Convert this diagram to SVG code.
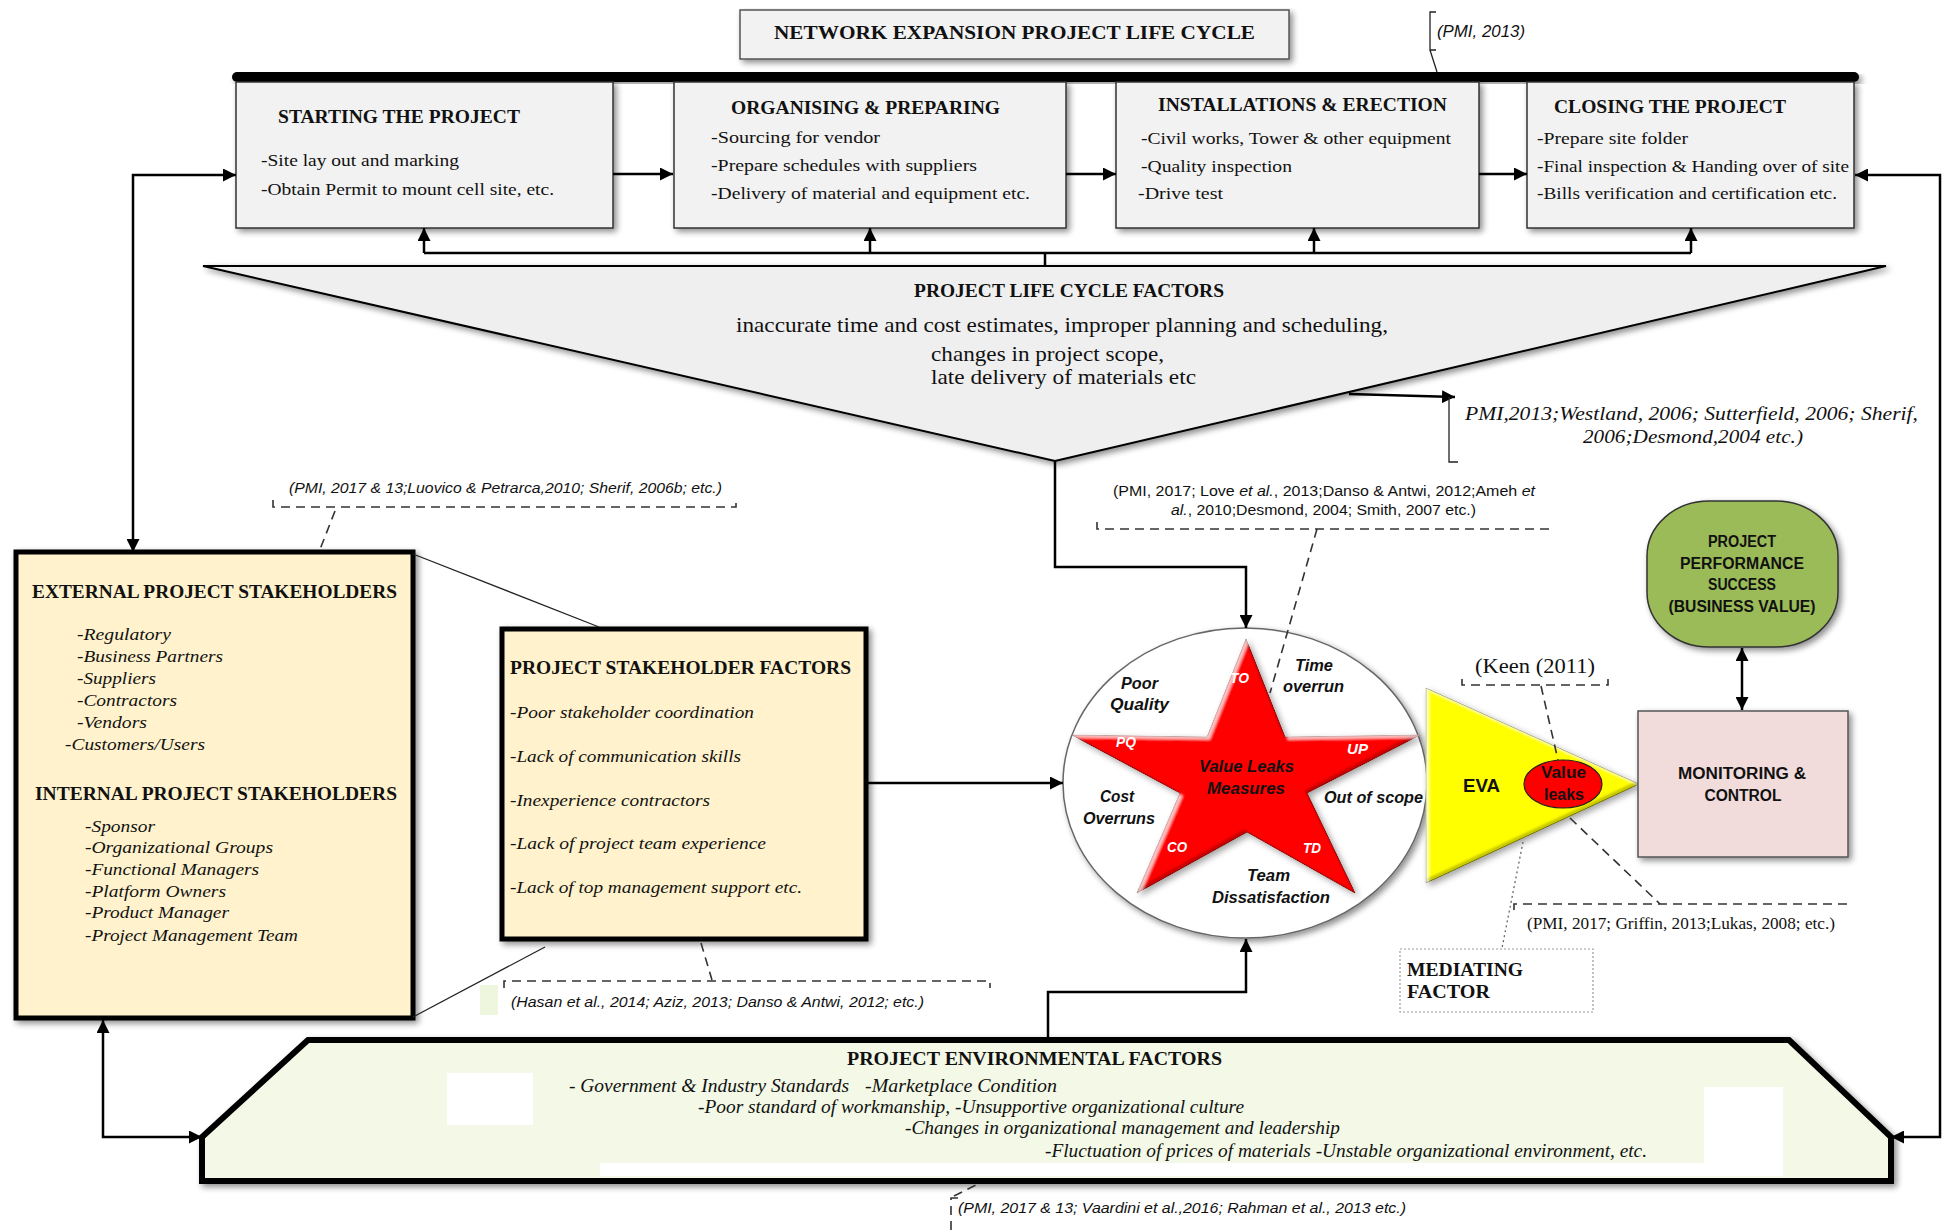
<svg xmlns="http://www.w3.org/2000/svg" width="1944" height="1232" viewBox="0 0 1944 1232">
  <defs>
    <style>
      .ser { font-family: "Liberation Serif", "Times New Roman", serif; fill: #111; }
      .sans { font-family: "Liberation Sans", Arial, sans-serif; fill: #111; }
      .b { font-weight: bold; }
      .i { font-style: italic; }
      .phase { fill: #f2f2f2; stroke: #333; stroke-width: 1.5; }
      .stake { fill: #fff2cc; stroke: #000; stroke-width: 5; }
      .conn { fill: none; stroke: #000; stroke-width: 2.5; }
      .thin { fill: none; stroke: #222; stroke-width: 1.3; }
      .dash { fill: none; stroke: #333; stroke-width: 1.6; stroke-dasharray: 9 6; }
      .dot { fill: none; stroke: #666; stroke-width: 1.3; stroke-dasharray: 2 3; }
      .wlab { fill: #fff; font-family: "Liberation Sans", Arial, sans-serif; font-weight: bold; font-style: italic; font-size: 14px; }
      .klab { fill: #111; font-family: "Liberation Sans", Arial, sans-serif; font-weight: bold; font-style: italic; font-size: 16px; }
    </style>
    <marker id="ah" viewBox="0 0 10 10" refX="10" refY="5" markerWidth="13" markerHeight="13" markerUnits="userSpaceOnUse" orient="auto-start-reverse">
      <path d="M0,0 L10,5 L0,10 z" fill="#000"/>
    </marker>
    <filter id="sh" x="-10%" y="-10%" width="125%" height="130%">
      <feGaussianBlur in="SourceAlpha" stdDeviation="3"/>
      <feOffset dx="3" dy="3" result="o"/>
      <feComponentTransfer><feFuncA type="linear" slope="0.45"/></feComponentTransfer>
      <feMerge><feMergeNode/><feMergeNode in="SourceGraphic"/></feMerge>
    </filter>
    <filter id="bevel" x="-6%" y="-6%" width="115%" height="115%">
      <feGaussianBlur in="SourceAlpha" stdDeviation="3" result="sb"/>
      <feOffset in="sb" dx="3" dy="3" result="sbo"/>
      <feFlood flood-color="#000" flood-opacity="0.35"/>
      <feComposite in2="sbo" operator="in" result="drop"/>
      <feOffset in="SourceAlpha" dx="-3" dy="-3" result="s1"/>
      <feComposite in="SourceAlpha" in2="s1" operator="out" result="e1"/>
      <feGaussianBlur in="e1" stdDeviation="1.2" result="e1b"/>
      <feFlood flood-color="#000" flood-opacity="0.45"/>
      <feComposite in2="e1b" operator="in" result="dk"/>
      <feOffset in="SourceAlpha" dx="3" dy="3" result="s2"/>
      <feComposite in="SourceAlpha" in2="s2" operator="out" result="e2"/>
      <feGaussianBlur in="e2" stdDeviation="1.2" result="e2b"/>
      <feFlood flood-color="#fff" flood-opacity="0.55"/>
      <feComposite in2="e2b" operator="in" result="lt"/>
      <feMerge result="m"><feMergeNode in="SourceGraphic"/><feMergeNode in="dk"/><feMergeNode in="lt"/></feMerge>
      <feComposite in="m" in2="SourceAlpha" operator="in" result="mc"/>
      <feMerge><feMergeNode in="drop"/><feMergeNode in="mc"/></feMerge>
    </filter>
  </defs>

  <rect width="1944" height="1232" fill="#fff"/>

  <!-- title -->
  <g id="node-title">
    <rect x="740" y="10" width="549" height="49" fill="#f2f2f2" stroke="#555" stroke-width="1.5" filter="url(#sh)"/>
    <text class="ser b" x="774" y="39" font-size="19" textLength="481" lengthAdjust="spacingAndGlyphs">NETWORK EXPANSION PROJECT LIFE CYCLE</text>
  </g>

  <!-- life-cycle timeline bar -->
  <rect id="timeline-bar" x="232" y="72" width="1627" height="10" rx="5" fill="#000" filter="url(#sh)"/>

  <!-- phases -->
  <g id="node-start">
    <rect class="phase" x="236" y="82" width="377" height="146" filter="url(#sh)"/>
    <text class="ser b" x="278" y="123" font-size="18" textLength="242" lengthAdjust="spacingAndGlyphs">STARTING THE PROJECT</text>
    <text class="ser" x="261" y="166" font-size="17" textLength="198" lengthAdjust="spacingAndGlyphs">-Site lay out and marking</text>
    <text class="ser" x="261" y="195" font-size="17" textLength="293" lengthAdjust="spacingAndGlyphs">-Obtain Permit to mount cell site, etc.</text>
  </g>
  <g id="node-organise">
    <rect class="phase" x="674" y="82" width="392" height="146" filter="url(#sh)"/>
    <text class="ser b" x="731" y="114" font-size="18" textLength="269" lengthAdjust="spacingAndGlyphs">ORGANISING &amp; PREPARING</text>
    <text class="ser" x="711" y="143" font-size="17" textLength="169" lengthAdjust="spacingAndGlyphs">-Sourcing for vendor</text>
    <text class="ser" x="711" y="171" font-size="17" textLength="266" lengthAdjust="spacingAndGlyphs">-Prepare schedules with suppliers</text>
    <text class="ser" x="711" y="199" font-size="17" textLength="319" lengthAdjust="spacingAndGlyphs">-Delivery of material and equipment etc.</text>
  </g>
  <g id="node-install">
    <rect class="phase" x="1116" y="82" width="363" height="146" filter="url(#sh)"/>
    <text class="ser b" x="1158" y="111" font-size="18" textLength="289" lengthAdjust="spacingAndGlyphs">INSTALLATIONS &amp; ERECTION</text>
    <text class="ser" x="1141" y="144" font-size="17" textLength="310" lengthAdjust="spacingAndGlyphs">-Civil works, Tower &amp; other equipment</text>
    <text class="ser" x="1141" y="172" font-size="17" textLength="151" lengthAdjust="spacingAndGlyphs">-Quality inspection</text>
    <text class="ser" x="1138" y="199" font-size="17" textLength="85" lengthAdjust="spacingAndGlyphs">-Drive test</text>
  </g>
  <g id="node-close">
    <rect class="phase" x="1527" y="82" width="327" height="146" filter="url(#sh)"/>
    <text class="ser b" x="1554" y="113" font-size="18" textLength="232" lengthAdjust="spacingAndGlyphs">CLOSING THE PROJECT</text>
    <text class="ser" x="1537" y="144" font-size="17" textLength="151" lengthAdjust="spacingAndGlyphs">-Prepare site folder</text>
    <text class="ser" x="1537" y="172" font-size="17" textLength="312" lengthAdjust="spacingAndGlyphs">-Final inspection &amp; Handing over of site</text>
    <text class="ser" x="1537" y="199" font-size="17" textLength="300" lengthAdjust="spacingAndGlyphs">-Bills verification and certification etc.</text>
  </g>

  <!-- project life cycle factors (inverted triangle) -->
  <g id="node-lifecycle-factors">
    <polygon points="203,266 1886,266 1055,461" fill="#efefef" stroke="#000" stroke-width="2" filter="url(#sh)"/>
    <text class="ser b" x="914" y="297" font-size="19" textLength="310" lengthAdjust="spacingAndGlyphs">PROJECT LIFE CYCLE FACTORS</text>
    <text class="ser" x="736" y="332" font-size="21" textLength="652" lengthAdjust="spacingAndGlyphs">inaccurate time and cost estimates, improper planning and scheduling,</text>
    <text class="ser" x="931" y="361" font-size="21" textLength="233" lengthAdjust="spacingAndGlyphs">changes in project scope,</text>
    <text class="ser" x="931" y="384" font-size="21" textLength="265" lengthAdjust="spacingAndGlyphs">late delivery of materials etc</text>
  </g>

  <!-- stakeholders -->
  <g id="node-external">
    <rect class="stake" x="16" y="552" width="397" height="466" filter="url(#sh)"/>
    <text class="ser b" x="32" y="598" font-size="19" textLength="365" lengthAdjust="spacingAndGlyphs">EXTERNAL PROJECT STAKEHOLDERS</text>
    <g class="ser i" font-size="17">
      <text x="77" y="640" textLength="94" lengthAdjust="spacingAndGlyphs">-Regulatory</text>
      <text x="77" y="662" textLength="146" lengthAdjust="spacingAndGlyphs">-Business Partners</text>
      <text x="77" y="684" textLength="79" lengthAdjust="spacingAndGlyphs">-Suppliers</text>
      <text x="77" y="706" textLength="100" lengthAdjust="spacingAndGlyphs">-Contractors</text>
      <text x="77" y="728" textLength="70" lengthAdjust="spacingAndGlyphs">-Vendors</text>
      <text x="65" y="750" textLength="140" lengthAdjust="spacingAndGlyphs">-Customers/Users</text>
    </g>
    <text class="ser b" x="35" y="800" font-size="19" textLength="362" lengthAdjust="spacingAndGlyphs">INTERNAL PROJECT STAKEHOLDERS</text>
    <g class="ser i" font-size="17">
      <text x="85" y="832" textLength="70" lengthAdjust="spacingAndGlyphs">-Sponsor</text>
      <text x="85" y="853" textLength="188" lengthAdjust="spacingAndGlyphs">-Organizational Groups</text>
      <text x="85" y="875" textLength="174" lengthAdjust="spacingAndGlyphs">-Functional Managers</text>
      <text x="85" y="897" textLength="141" lengthAdjust="spacingAndGlyphs">-Platform Owners</text>
      <text x="85" y="918" textLength="144" lengthAdjust="spacingAndGlyphs">-Product Manager</text>
      <text x="85" y="941" textLength="213" lengthAdjust="spacingAndGlyphs">-Project Management Team</text>
    </g>
  </g>

  <g id="node-stakeholder-factors">
    <rect class="stake" x="502" y="629" width="364" height="310" filter="url(#sh)"/>
    <text class="ser b" x="510" y="674" font-size="19" textLength="341" lengthAdjust="spacingAndGlyphs">PROJECT STAKEHOLDER FACTORS</text>
    <g class="ser i" font-size="17">
      <text x="510" y="718" textLength="244" lengthAdjust="spacingAndGlyphs">-Poor stakeholder coordination</text>
      <text x="510" y="762" textLength="231" lengthAdjust="spacingAndGlyphs">-Lack of communication skills</text>
      <text x="510" y="806" textLength="200" lengthAdjust="spacingAndGlyphs">-Inexperience contractors</text>
      <text x="510" y="849" textLength="256" lengthAdjust="spacingAndGlyphs">-Lack of project team experience</text>
      <text x="510" y="893" textLength="292" lengthAdjust="spacingAndGlyphs">-Lack of top management support etc.</text>
    </g>
  </g>

  <!-- value leak measures: ellipse with star -->
  <g id="node-value-leaks">
    <ellipse cx="1245" cy="783" rx="182" ry="155" fill="#fff" stroke="#666" stroke-width="1.5" filter="url(#sh)"/>
    <polygon points="1246,639 1285,737 1420,735 1307,793 1355,893 1247,832 1137,893 1180,793 1072,735 1207,737" fill="#ff0000" stroke="#900" stroke-width="1" filter="url(#bevel)"/>
    <text class="wlab" x="1230" y="683" textLength="19" lengthAdjust="spacingAndGlyphs">TO</text>
    <text class="wlab" x="1116" y="747" textLength="20" lengthAdjust="spacingAndGlyphs">PQ</text>
    <text class="wlab" x="1347" y="754" textLength="21" lengthAdjust="spacingAndGlyphs">UP</text>
    <text class="wlab" x="1167" y="852" textLength="20" lengthAdjust="spacingAndGlyphs">CO</text>
    <text class="wlab" x="1303" y="853" textLength="18" lengthAdjust="spacingAndGlyphs">TD</text>
    <text class="klab" x="1199" y="772" textLength="95" lengthAdjust="spacingAndGlyphs">Value Leaks</text>
    <text class="klab" x="1207" y="794" textLength="78" lengthAdjust="spacingAndGlyphs">Measures</text>
    <text class="klab" x="1121" y="689" textLength="37" lengthAdjust="spacingAndGlyphs">Poor</text>
    <text class="klab" x="1110" y="710" textLength="59" lengthAdjust="spacingAndGlyphs">Quality</text>
    <text class="klab" x="1295" y="671" textLength="38" lengthAdjust="spacingAndGlyphs">Time</text>
    <text class="klab" x="1283" y="692" textLength="61" lengthAdjust="spacingAndGlyphs">overrun</text>
    <text class="klab" x="1100" y="802" textLength="34" lengthAdjust="spacingAndGlyphs">Cost</text>
    <text class="klab" x="1083" y="824" textLength="72" lengthAdjust="spacingAndGlyphs">Overruns</text>
    <text class="klab" x="1324" y="803" textLength="99" lengthAdjust="spacingAndGlyphs">Out of scope</text>
    <text class="klab" x="1247" y="881" textLength="43" lengthAdjust="spacingAndGlyphs">Team</text>
    <text class="klab" x="1212" y="903" textLength="118" lengthAdjust="spacingAndGlyphs">Dissatisfaction</text>
  </g>

  <!-- EVA -->
  <g id="node-eva">
    <polygon points="1426,688 1639,784 1426,883" fill="#ffff00" stroke="#7a7a00" stroke-width="1" filter="url(#bevel)"/>
    <text class="sans b" x="1463" y="792" font-size="19" textLength="37" lengthAdjust="spacingAndGlyphs">EVA</text>
    <ellipse cx="1563" cy="784" rx="39" ry="24" fill="#ff0000" stroke="#222" stroke-width="1.2"/>
    <text class="sans b" x="1541" y="778" font-size="17" textLength="45" lengthAdjust="spacingAndGlyphs">Value</text>
    <text class="sans b" x="1544" y="800" font-size="17" textLength="40" lengthAdjust="spacingAndGlyphs">leaks</text>
  </g>

  <!-- performance & monitoring -->
  <g id="node-performance">
    <rect x="1647" y="501" width="191" height="146" rx="62" ry="55" fill="#9bbb59" stroke="#333" stroke-width="1.5" filter="url(#sh)"/>
    <g class="sans b" font-size="16" text-anchor="middle">
      <text x="1742" y="547" textLength="68" lengthAdjust="spacingAndGlyphs">PROJECT</text>
      <text x="1742" y="569" textLength="124" lengthAdjust="spacingAndGlyphs">PERFORMANCE</text>
      <text x="1742" y="590" textLength="68" lengthAdjust="spacingAndGlyphs">SUCCESS</text>
      <text x="1742" y="612" textLength="147" lengthAdjust="spacingAndGlyphs">(BUSINESS VALUE)</text>
    </g>
  </g>
  <g id="node-monitoring">
    <rect x="1638" y="711" width="210" height="146" fill="#f2dcdb" stroke="#555" stroke-width="1.5" filter="url(#sh)"/>
    <g class="sans b" font-size="16" text-anchor="middle">
      <text x="1742" y="779" textLength="128" lengthAdjust="spacingAndGlyphs">MONITORING &amp;</text>
      <text x="1743" y="801" textLength="77" lengthAdjust="spacingAndGlyphs">CONTROL</text>
    </g>
  </g>

  <g id="node-mediating">
    <rect x="1400" y="949" width="193" height="63" fill="#fff" stroke="#999" stroke-width="1.2" stroke-dasharray="2 2"/>
    <text class="ser b" x="1407" y="976" font-size="19" textLength="116" lengthAdjust="spacingAndGlyphs">MEDIATING</text>
    <text class="ser b" x="1407" y="998" font-size="19" textLength="83" lengthAdjust="spacingAndGlyphs">FACTOR</text>
  </g>

  <!-- project environmental factors -->
  <g id="node-environment">
    <path d="M308,1040 L1789,1040 L1891,1137 L1891,1181 L202,1181 L202,1137 Z" fill="#f3f9e6" stroke="#000" stroke-width="6" stroke-linejoin="miter" filter="url(#sh)"/>
    <rect x="447" y="1073" width="86" height="52" fill="#fff"/>
    <rect x="1704" y="1087" width="79" height="83" fill="#fff"/>
    <rect x="600" y="1163" width="1183" height="13" fill="#fff"/>
    <text class="ser b" x="847" y="1065" font-size="18" textLength="375" lengthAdjust="spacingAndGlyphs">PROJECT ENVIRONMENTAL FACTORS</text>
    <g class="ser i" font-size="18">
      <text x="569" y="1092" textLength="280" lengthAdjust="spacingAndGlyphs">- Government &amp; Industry Standards</text>
      <text x="865" y="1092" textLength="192" lengthAdjust="spacingAndGlyphs">-Marketplace Condition</text>
      <text x="698" y="1113" textLength="546" lengthAdjust="spacingAndGlyphs">-Poor standard of workmanship, -Unsupportive organizational culture</text>
      <text x="905" y="1134" textLength="435" lengthAdjust="spacingAndGlyphs">-Changes in organizational management and leadership</text>
      <text x="1045" y="1157" textLength="602" lengthAdjust="spacingAndGlyphs">-Fluctuation of prices of materials -Unstable organizational environment, etc.</text>
    </g>
  </g>

  <!-- connectors -->
  <g id="connectors">
    <path class="conn" d="M613,174 H673" stroke-width="2" marker-end="url(#ah)"/>
    <path class="conn" d="M1066,174 H1116" stroke-width="2" marker-end="url(#ah)"/>
    <path class="conn" d="M1479,174 H1527" stroke-width="2" marker-end="url(#ah)"/>
    <path class="conn" d="M424,253 H1691 M1045,266 V253" stroke-width="1.5"/>
    <path class="conn" d="M424,253 V228" stroke-width="1.5" marker-end="url(#ah)"/>
    <path class="conn" d="M870,253 V228" stroke-width="1.5" marker-end="url(#ah)"/>
    <path class="conn" d="M1314,253 V228" stroke-width="1.5" marker-end="url(#ah)"/>
    <path class="conn" d="M1691,253 V228" stroke-width="1.5" marker-end="url(#ah)"/>
    <path class="conn" d="M236,175 H133 V552" stroke-width="3.5" marker-start="url(#ah)" marker-end="url(#ah)"/>
    <path class="conn" d="M1855,175 H1940 V1137 H1891" stroke-width="3.5" marker-start="url(#ah)" marker-end="url(#ah)"/>
    <path class="conn" d="M103,1020 V1137 H202" stroke-width="3.5" marker-start="url(#ah)" marker-end="url(#ah)"/>
    <path class="conn" d="M1055,461 V567 H1246 V628" marker-end="url(#ah)"/>
    <path class="conn" d="M866,783 H1063" marker-end="url(#ah)"/>
    <path class="conn" d="M1048,1038 V992 H1246 V939" marker-end="url(#ah)"/>
    <path class="conn" d="M1742,648 V710" stroke-width="2" marker-start="url(#ah)" marker-end="url(#ah)"/>
    <path class="thin" d="M413,554 L599,627"/>
    <path class="thin" d="M413,1017 L545,947"/>
  </g>

  <!-- literature references -->
  <g id="citations">
    <path class="thin" d="M1436,12 H1430 V50 H1436 M1430,50 L1437,72"/>
    <text class="sans i" x="1437" y="37" font-size="16" textLength="88" lengthAdjust="spacingAndGlyphs">(PMI, 2013)</text>

    <path class="conn" d="M1349,394 L1455,397" stroke-width="1.5" marker-end="url(#ah)"/>
    <path class="thin" d="M1449,397 V462 H1458"/>
    <text class="ser i" x="1465" y="420" font-size="18" textLength="453" lengthAdjust="spacingAndGlyphs">PMI,2013;Westland, 2006;  Sutterfield, 2006; Sherif,</text>
    <text class="ser i" x="1583" y="443" font-size="18" textLength="220" lengthAdjust="spacingAndGlyphs">2006;Desmond,2004 etc.)</text>

    <text class="sans i" x="289" y="493" font-size="15" textLength="433" lengthAdjust="spacingAndGlyphs">(PMI, 2017 &amp; 13;Luovico &amp; Petrarca,2010; Sherif, 2006b; etc.)</text>
    <path class="dash" d="M273,500 V507 H736 V500"/>
    <path class="dash" d="M335,511 L319,552"/>

    <text class="sans" x="1113" y="496" font-size="14" textLength="422" lengthAdjust="spacingAndGlyphs">(PMI, 2017; Love <tspan font-style="italic">et al.</tspan>, 2013;Danso &amp; Antwi, 2012;Ameh <tspan font-style="italic">et</tspan></text>
    <text class="sans" x="1171" y="515" font-size="14" textLength="305" lengthAdjust="spacingAndGlyphs"><tspan font-style="italic">al.</tspan>, 2010;Desmond, 2004; Smith, 2007 etc.)</text>
    <path class="dash" d="M1097,522 V529 H1550"/>
    <path class="dash" d="M1317,529 L1270,693"/>

    <text class="ser" x="1475" y="673" font-size="21" textLength="120" lengthAdjust="spacingAndGlyphs">(Keen (2011)</text>
    <path class="dash" d="M1462,679 V685 H1608 V679"/>
    <path class="dash" d="M1541,686 L1558,760"/>

    <path class="dash" d="M1514,910 V904 H1848"/>
    <path class="dash" d="M1570,818 L1660,904"/>
    <path class="dot" d="M1523,842 L1502,948"/>
    <text class="ser" x="1527" y="929" font-size="16" textLength="308" lengthAdjust="spacingAndGlyphs">(PMI, 2017; Griffin, 2013;Lukas, 2008; etc.)</text>

    <rect x="480" y="985" width="18" height="30" fill="#eef6dd"/>
    <path class="dash" d="M504,988 V981 H990 V988"/>
    <path class="dash" d="M701,943 L712,980"/>
    <text class="sans i" x="511" y="1007" font-size="15" textLength="413" lengthAdjust="spacingAndGlyphs">(Hasan et al., 2014; Aziz, 2013; Danso &amp; Antwi, 2012; etc.)</text>

    <path class="dash" d="M958,1198 H951 V1232"/>
    <path class="dash" d="M954,1196 L980,1183"/>
    <text class="sans i" x="958" y="1213" font-size="15" textLength="448" lengthAdjust="spacingAndGlyphs">(PMI, 2017 &amp; 13; Vaardini et al.,2016; Rahman et al., 2013 etc.)</text>
  </g>
</svg>
